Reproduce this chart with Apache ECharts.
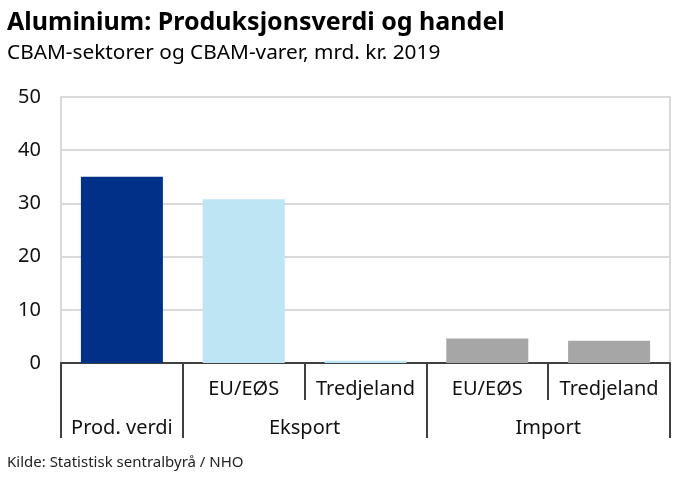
<!DOCTYPE html>
<html><head><meta charset="utf-8">
<script src="https://cdn.jsdelivr.net/npm/echarts@6/dist/echarts.min.js"></script>
<style>html,body{margin:0;padding:0;background:#fff}#c{width:686px;height:477px}</style>
</head><body><div id="c"></div>
<script>
const categories = ['Prod. verdi', 'EU/EØS', 'Tredjeland', 'EU/EØS', 'Tredjeland'];
const values = [35.0, 30.8, 0.4, 4.6, 4.2];
const groupLabels = ['Prod. verdi', 'Eksport', 'Import'];
const groupPositions = [1, 4, 8]; // half-slot positions of group labels
const longTickPositions = [0, 2, 6, 10];
const yTicks = [0, 10, 20, 30, 40, 50];
const barColors = ['#003087', '#bde5f3', '#bde5f3', '#a6a6a6', '#a6a6a6'];

const font = '"Noto Sans", sans-serif';
const halfCats = Array.from({length: 11}, (_, i) => {
  const k = groupPositions.indexOf(i);
  return k >= 0 ? groupLabels[k] : '';
});
const level1 = categories.map((c, i) => i === 0 ? '' : c);

const chart = echarts.init(document.getElementById('c'), null, {renderer: 'canvas'});
chart.setOption({
  animation: false,
  title: [
    {text: 'Aluminium: Produksjonsverdi og handel', left: 7, top: 10, padding: 0,
     textStyle: {fontFamily: font, fontWeight: 'bold', fontSize: 25, color: '#000'}},
    {text: 'CBAM-sektorer og CBAM-varer, mrd. kr. 2019', left: 7, top: 43, padding: 0,
     textStyle: {fontFamily: font, fontWeight: 'normal', fontSize: 20.8, color: '#000'}},
    {text: 'Kilde: Statistisk sentralbyrå / NHO', left: 7, top: 455, padding: 0,
     textStyle: {fontFamily: font, fontWeight: 'normal', fontSize: 15, color: '#222'}}
  ],
  grid: {left: 61, right: 16, top: 97, bottom: 114},
  xAxis: [
    {type: 'category', data: level1, boundaryGap: true, position: 'bottom',
     axisLine: {show: true, lineStyle: {color: '#404040', width: 2}},
     axisTick: {show: true, length: 37, lineStyle: {color: '#404040', width: 2}},
     axisLabel: {margin: 16, fontFamily: font, fontSize: 20, color: '#111', interval: 0}},
    {type: 'category', data: halfCats, boundaryGap: false, position: 'bottom',
     axisLine: {show: false},
     axisTick: {show: true, length: 75, inside: false,
       interval: (i) => longTickPositions.indexOf(i) >= 0,
       lineStyle: {color: '#404040', width: 2}},
     axisLabel: {margin: 55, fontFamily: font, fontSize: 20, color: '#111', interval: 0}}
  ],
  yAxis: [
    {type: 'value', min: 0, max: 50, interval: 10,
     axisLine: {show: true, lineStyle: {color: '#d9d9d9', width: 2}},
     axisTick: {show: false},
     splitLine: {show: true, lineStyle: {color: '#d9d9d9', width: 2}},
     axisLabel: {margin: 20, fontFamily: font, fontSize: 20, color: '#111',
       formatter: (v) => yTicks.indexOf(v) >= 0 ? String(v) : ''}},
    {type: 'value', min: 0, max: 50, interval: 10, position: 'right',
     axisLine: {show: true, lineStyle: {color: '#d9d9d9', width: 2}},
     axisTick: {show: false}, splitLine: {show: false}, axisLabel: {show: false}}
  ],
  series: [{
    type: 'bar', xAxisIndex: 0, yAxisIndex: 0, barWidth: 82,
    data: values.map((v, i) => ({value: v, itemStyle: {color: barColors[i]}}))
  }]
});
</script></body></html>
